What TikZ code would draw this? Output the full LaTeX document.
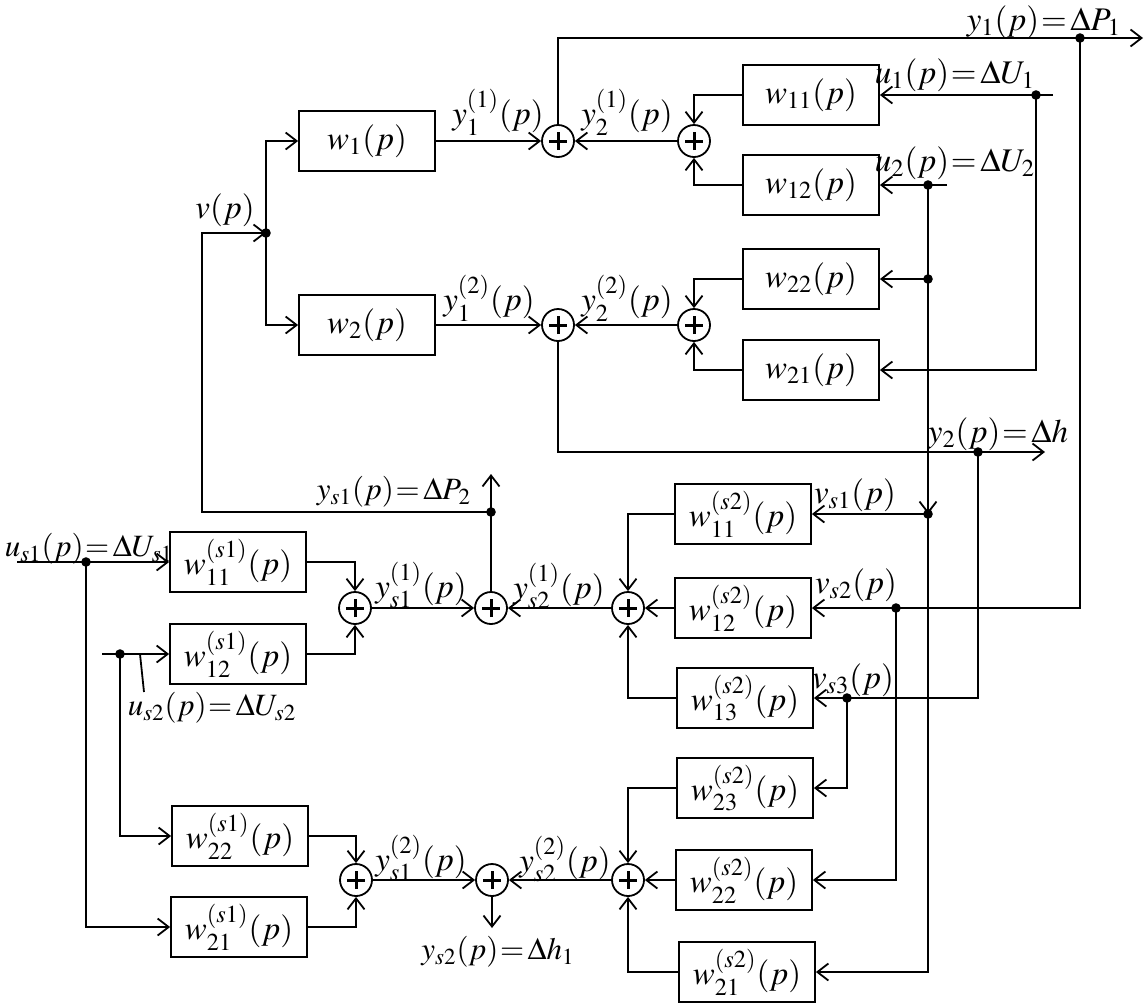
\documentclass[tikz,border=0pt]{standalone}
\usepackage{mathptmx}
\usetikzlibrary{arrows.meta}
\newcommand{\myeq}{\mathrel{\mkern-3mu=\mkern-2mu}}
\begin{document}
\begin{tikzpicture}[x=0.5pt,y=-0.5pt,
  every node/.style={font=\fontsize{16.5}{19}\selectfont},
  blk/.style={draw,line width=0.9pt,minimum width=68pt,minimum height=30pt,inner sep=0pt},
  sumn/.style={draw,circle,line width=0.9pt,minimum size=16pt,inner sep=0pt,
    path picture={
      \draw[line width=1.5pt] ([xshift=-4.5pt]path picture bounding box.center) -- ([xshift=4.5pt]path picture bounding box.center);
      \draw[line width=1.5pt] ([yshift=-4.5pt]path picture bounding box.center) -- ([yshift=4.5pt]path picture bounding box.center);}},
  sig/.style={line width=0.9pt},
  arr/.style={sig,-{Straight Barb[length=5.5pt,width=8.5pt,line width=0.9pt]}},
  lbl/.style={inner sep=0pt},
  slbl/.style={inner sep=0pt,font=\fontsize{15.5}{18}\selectfont}
]
\useasboundingbox (0,0) rectangle (1145,1003);

% ---------- upper part ----------
\node[blk] (w1) at (367,141) {$w_1(p)$};
\node[blk] (w2) at (367,325) {$w_2(p)$};
\node[blk] (w11) at (811,95) {$w_{11}(p)$};
\node[blk] (w12) at (811,185) {$w_{12}(p)$};
\node[blk] (w22) at (811,279) {$w_{22}(p)$};
\node[blk] (w21) at (811,370) {$w_{21}(p)$};
\node[sumn] (S1) at (558,141) {};
\node[sumn] (S2) at (694,141) {};
\node[sumn] (S3) at (558,325) {};
\node[sumn] (S4) at (694,325) {};

% ---------- lower part ----------
\node[blk] (a11) at (238,562) {$w_{11}^{(s1)}(p)$};
\node[blk] (a12) at (238,654) {$w_{12}^{(s1)}(p)$};
\node[blk] (a22) at (240,836) {$w_{22}^{(s1)}(p)$};
\node[blk] (a21) at (239,927) {$w_{21}^{(s1)}(p)$};
\node[blk] (b11) at (743,514) {$w_{11}^{(s2)}(p)$};
\node[blk] (b12) at (743,608) {$w_{12}^{(s2)}(p)$};
\node[blk] (b13) at (745,698) {$w_{13}^{(s2)}(p)$};
\node[blk] (b23) at (745,788) {$w_{23}^{(s2)}(p)$};
\node[blk] (b22) at (744,880) {$w_{22}^{(s2)}(p)$};
\node[blk] (b21) at (747,972) {$w_{21}^{(s2)}(p)$};
\node[sumn] (Sa) at (355,608) {};
\node[sumn] (Sm) at (491,608) {};
\node[sumn] (Sr) at (628,608) {};
\node[sumn] (Sb) at (356,880) {};
\node[sumn] (Sc) at (492,880) {};
\node[sumn] (Sd) at (628,880) {};

% ---------- coordinates ----------
\coordinate (topend) at (1143,38);
\coordinate (d1) at (1080,38);
\coordinate (u1in) at (1053,95);
\coordinate (du1) at (1036,95);
\coordinate (u2in) at (947,185);
\coordinate (du2) at (928,185);
\coordinate (dw22) at (928,279);
\coordinate (dvs1) at (928,514);
\coordinate (dvs2) at (896,608);
\coordinate (y2end) at (1045,452);
\coordinate (dy2) at (978,452);
\coordinate (dvs3) at (847,698);
\coordinate (dys1) at (491,512);
\coordinate (ys1end) at (491,474);
\coordinate (dv) at (266,233);
\coordinate (lc) at (202,512);
\coordinate (us1in) at (17,562);
\coordinate (dus1) at (86,562);
\coordinate (us2in) at (102,654);
\coordinate (dus2) at (120,654);
\coordinate (lead1) at (140,654);
\coordinate (lead2) at (144,692);
\coordinate (ys2end) at (492,928);

% ---------- connectors, upper ----------
\draw[arr] (w1) -- (S1);
\draw[arr] (S2) -- (S1);
\draw[arr] (w11.west) -| (S2.north);
\draw[arr] (w12.west) -| (S2.south);
\draw[arr] (S1.north) |- (topend);
\draw[arr] (u1in) -- (w11.east);
\draw[arr] (du1) |- (w21.east);
\draw[arr] (u2in) -- (w12.east);
\draw[sig] (du2) -- (dw22);
\draw[arr] (dw22) -- (w22.east);
\draw[arr] (dw22) -- (dvs1);
\draw[arr] (w2) -- (S3);
\draw[arr] (S4) -- (S3);
\draw[arr] (w22.west) -| (S4.north);
\draw[arr] (w21.west) -| (S4.south);
\draw[arr] (S3.south) |- (y2end);
\draw[arr] (dv) |- (w1.west);
\draw[arr] (dv) |- (w2.west);

% ---------- connectors, cross ----------
\draw[arr] (d1) |- (b12.east);
\draw[arr] (dvs2) |- (b22.east);
\draw[arr] (dvs1) -- (b11.east);
\draw[arr] (dvs1) |- (b21.east);
\draw[arr] (dy2) |- (b13.east);
\draw[arr] (dvs3) |- (b23.east);
\draw[arr] (dys1) -- (lc) |- (dv);

% ---------- connectors, lower ----------
\draw[arr] (us1in) -- (a11.west);
\draw[arr] (dus1) |- (a21.west);
\draw[arr] (us2in) -- (a12.west);
\draw[arr] (dus2) |- (a22.west);
\draw[sig] (lead1) -- (lead2);
\draw[arr] (a11.east) -| (Sa.north);
\draw[arr] (a12.east) -| (Sa.south);
\draw[arr] (Sa) -- (Sm);
\draw[arr] (Sr) -- (Sm);
\draw[arr] (b11.west) -| (Sr.north);
\draw[arr] (b12) -- (Sr);
\draw[arr] (b13.west) -| (Sr.south);
\draw[arr] (Sm.north) -- (ys1end);
\draw[arr] (a22.east) -| (Sb.north);
\draw[arr] (a21.east) -| (Sb.south);
\draw[arr] (Sb) -- (Sc);
\draw[arr] (Sd) -- (Sc);
\draw[arr] (b23.west) -| (Sd.north);
\draw[arr] (b22) -- (Sd);
\draw[arr] (b21.west) -| (Sd.south);
\draw[arr] (Sc.south) -- (ys2end);

% ---------- junction dots ----------
\foreach \c in {d1,du1,du2,dw22,dvs1,dvs2,dy2,dvs3,dys1,dv,dus1,dus2}
  \fill (\c) circle (2.4pt);

% ---------- labels ----------
\node[lbl] (Lv) at (225,210) {$v(p)$};
\node[lbl] (Ly1) at (1044,22) {$y_1(p)\myeq\Delta P_{\mkern1mu 1}$};
\node[lbl] (Lu1) at (955,75) {$u_1(p)\myeq\Delta U_1$};
\node[lbl] (Lu2) at (955,163) {$u_2(p)\myeq\Delta U_2$};
\node[lbl] (Ly2) at (998,434) {$y_2(p)\myeq\Delta h$};
\node[lbl] (Ly11) at (498,112) {$y_1^{(1)}(p)$};
\node[lbl] (Ly21) at (627,112) {$y_2^{(1)}(p)$};
\node[lbl] (Ly12) at (489,298) {$y_1^{(2)}(p)$};
\node[lbl] (Ly22) at (627,298) {$y_2^{(2)}(p)$};
\node[slbl] (Lys1) at (394,492) {$y_{s1}(p)\myeq\Delta P_{\mkern1mu 2}$};
\node[slbl] (Lus1) at (89,549) {$u_{s1}(p)\myeq\Delta U_{s1}$};
\node[slbl] (Lus2) at (212,708) {$u_{s2}(p)\myeq\Delta U_{s2}$};
\node[lbl] (Lys11) at (421,585) {$y_{s1}^{(1)}(p)$};
\node[lbl] (Lys21) at (559,586) {$y_{s2}^{(1)}(p)$};
\node[lbl] (Lys12) at (421,858) {$y_{s1}^{(2)}(p)$};
\node[lbl] (Lys22) at (565,859) {$y_{s2}^{(2)}(p)$};
\node[slbl] (Lys2) at (498,952) {$y_{s2}(p)\myeq\Delta h_1$};
\node[lbl] (Lvs1) at (855,495) {$v_{s1}(p)$};
\node[lbl] (Lvs2) at (856,585) {$v_{s2}(p)$};
\node[lbl] (Lvs3) at (853,680) {$v_{s3}(p)$};
\end{tikzpicture}
\end{document}
